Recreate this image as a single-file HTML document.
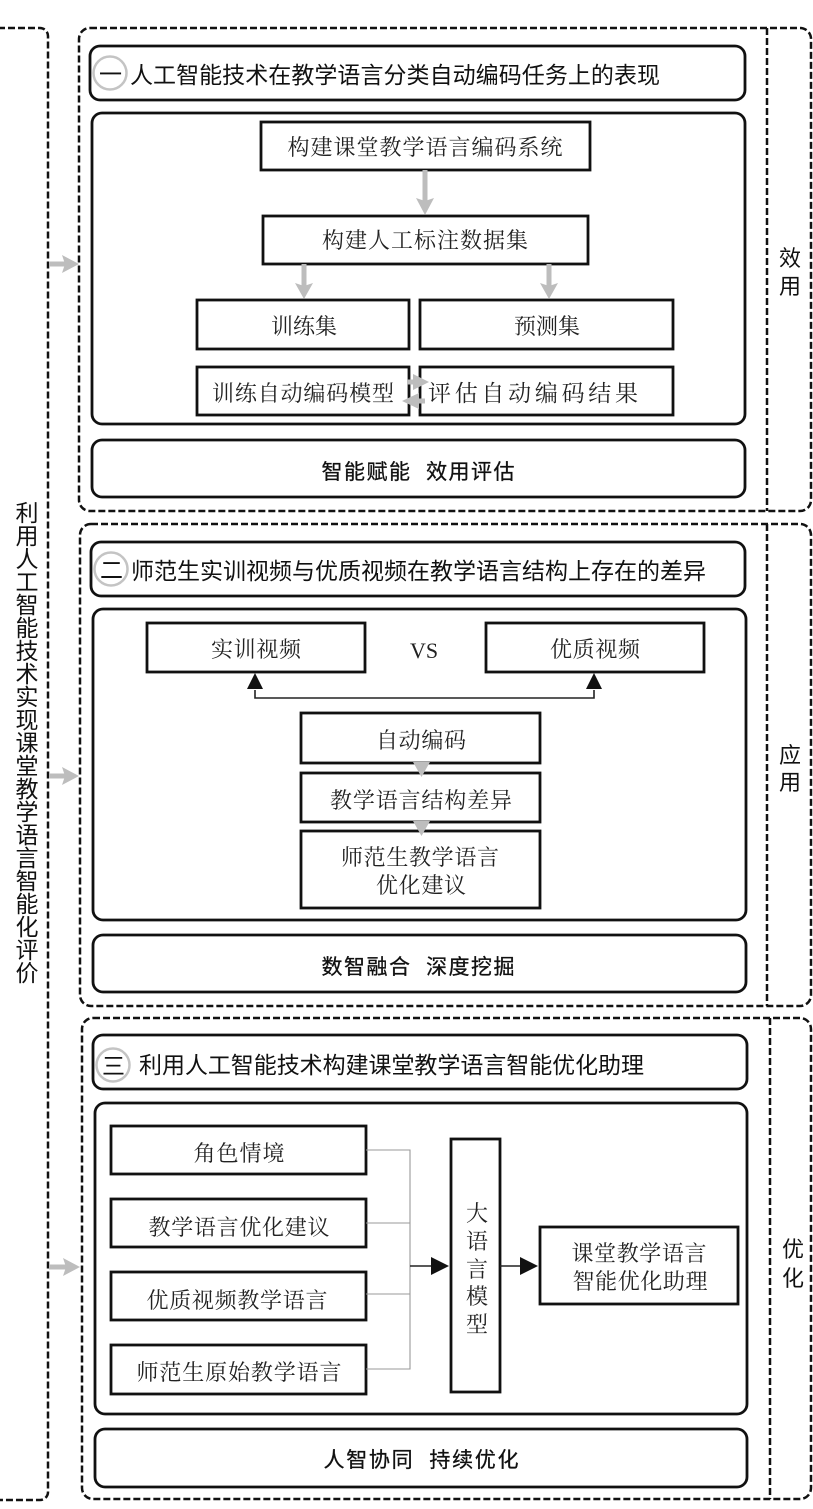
<!DOCTYPE html>
<html lang="zh"><head><meta charset="utf-8"><title>课堂教学语言智能化评价</title>
<style>
html,body{margin:0;padding:0;background:#fff}
svg{display:block}
.d{fill:none;stroke:#111;stroke-width:2.5;stroke-dasharray:7 3}
.r{fill:#fff;stroke:#111;stroke-width:2.8}
.b{fill:#fff;stroke:#111;stroke-width:2.8}
.g{stroke:#bdbdbd;stroke-width:5;fill:none}
.gf{fill:#bdbdbd}
.l{stroke:#999;stroke-width:1.1;fill:none}
.k{stroke:#222;stroke-width:1.6;fill:none}
.c{fill:#fff;stroke:#c4c4c4;stroke-width:2.5}
text{fill:#222;font-family:"Liberation Serif","Noto Serif CJK SC",serif;font-size:22px;text-anchor:middle}
.h{font-family:"Liberation Sans","Noto Sans CJK SC",sans-serif;font-size:23px;fill:#111;text-anchor:start}
.m{font-family:"Liberation Sans","Noto Sans CJK SC",sans-serif;font-size:21px;fill:#111;stroke:#111;stroke-width:.3}
.v{font-family:"Liberation Sans","Noto Sans CJK SC",sans-serif;font-size:22px;fill:#111}
</style></head><body>
<svg width="813" height="1509" viewBox="0 0 813 1509" xmlns="http://www.w3.org/2000/svg">
<!-- left column -->
<rect class="d" x="-10" y="28" width="58" height="1472" rx="8"/>
<text class="v" x="25" y="501" style="writing-mode:vertical-rl;text-anchor:start;font-size:23px">利用人工智能技术实现课堂教学语言智能化评价</text>

<!-- section 1 -->
<rect class="d" x="79" y="28" width="732" height="483" rx="11"/>
<line class="d" x1="767" y1="28" x2="767" y2="511"/>
<rect class="r" x="90" y="46" width="655" height="54" rx="10"/>
<circle class="c" cx="110" cy="73" r="16.5"/>
<text class="h" x="99" y="82">一</text>
<text class="h" x="130" y="83" textLength="530">人工智能技术在教学语言分类自动编码任务上的表现</text>
<rect class="r" x="92" y="113" width="653" height="311" rx="10"/>
<rect class="b" x="261" y="122" width="329" height="48"/>
<text x="425" y="155" textLength="275">构建课堂教学语言编码系统</text>
<rect class="b" x="263" y="216" width="325" height="48"/>
<text x="425" y="248" textLength="206">构建人工标注数据集</text>
<rect class="b" x="197" y="300" width="212" height="49"/>
<text x="304" y="334" textLength="66">训练集</text>
<rect class="b" x="420" y="300" width="253" height="49"/>
<text x="547" y="334" textLength="66">预测集</text>
<rect class="b" x="197" y="367" width="212" height="48"/>
<text x="303" y="401" textLength="182">训练自动编码模型</text>
<rect class="b" x="420" y="367" width="253" height="48"/>
<text x="533" y="401" textLength="210" style="font-size:23px">评估自动编码结果</text>
<rect class="r" x="92" y="440" width="653" height="57" rx="10"/>
<text class="m" x="418" y="479" textLength="193">智能赋能&#160;&#160;效用评估</text>
<text class="v" x="790" y="266">效</text>
<text class="v" x="790" y="294">用</text>
<!-- s1 arrows -->
<line class="g" x1="425" y1="170" x2="425" y2="203"/><path class="gf" d="M416 198l9 3 9-3-9 17z"/>
<line class="g" x1="304" y1="264" x2="304" y2="288"/><path class="gf" d="M295 283l9 3 9-3-9 16z"/>
<line class="g" x1="549" y1="264" x2="549" y2="288"/><path class="gf" d="M540 283l9 3 9-3-9 16z"/>
<line class="g" x1="407" y1="382" x2="422" y2="382"/><path class="gf" d="M413 374l16 8-16 8z"/>
<line class="g" x1="425" y1="401" x2="410" y2="401"/><path class="gf" d="M419 393l-17 8 17 8z"/>
<line class="g" x1="49" y1="264" x2="68" y2="264"/><path class="gf" d="M62 255l17 9-17 9 3-9z"/>

<!-- section 2 -->
<rect class="d" x="80" y="524" width="731" height="482" rx="11"/>
<line class="d" x1="767" y1="524" x2="767" y2="1006"/>
<rect class="r" x="91" y="542" width="654" height="54" rx="10"/>
<circle class="c" cx="111" cy="569" r="16.5"/>
<text class="h" x="100" y="578">二</text>
<text class="h" x="131" y="579" textLength="575">师范生实训视频与优质视频在教学语言结构上存在的差异</text>
<rect class="r" x="93" y="609" width="653" height="311" rx="10"/>
<rect class="b" x="147" y="623" width="218" height="49"/>
<text x="256" y="657" textLength="90">实训视频</text>
<rect class="b" x="486" y="623" width="218" height="49"/>
<text x="595" y="657" textLength="90">优质视频</text>
<text x="424" y="658">VS</text>
<path class="k" d="M255 690V698H594V690"/>
<path d="M247 689L255 673L263 689z M586 689L594 673L602 689z" fill="#111"/>
<rect class="b" x="301" y="713" width="239" height="50"/>
<text x="421" y="748" textLength="90">自动编码</text>
<rect class="b" x="301" y="773" width="239" height="49"/>
<text x="421" y="808" textLength="182">教学语言结构差异</text>
<rect class="b" x="301" y="831" width="239" height="77"/>
<text x="420" y="865" textLength="158">师范生教学语言</text>
<text x="421" y="893" textLength="90">优化建议</text>
<path class="gf" d="M413 762h17l-8.500 15z M413 821h17l-8.500 15z"/>
<rect class="r" x="93" y="935" width="653" height="57" rx="10"/>
<text class="m" x="418" y="974" textLength="193">数智融合&#160;&#160;深度挖掘</text>
<text class="v" x="790" y="763">应</text>
<text class="v" x="790" y="790">用</text>
<line class="g" x1="49" y1="776" x2="68" y2="776"/><path class="gf" d="M62 767l17 9-17 9 3-9z"/>

<!-- section 3 -->
<rect class="d" x="82" y="1018" width="729" height="481" rx="11"/>
<line class="d" x1="770" y1="1018" x2="770" y2="1499"/>
<rect class="r" x="93" y="1035" width="654" height="54" rx="10"/>
<circle class="c" cx="113" cy="1065" r="16.5"/>
<text class="h" x="102" y="1074">三</text>
<text class="h" x="139" y="1073" textLength="505">利用人工智能技术构建课堂教学语言智能优化助理</text>
<rect class="r" x="95" y="1103" width="652" height="311" rx="10"/>
<rect class="b" x="111" y="1126" width="255" height="48"/>
<text x="239" y="1161" textLength="91">角色情境</text>
<rect class="b" x="111" y="1199" width="255" height="48"/>
<text x="239" y="1235" textLength="181">教学语言优化建议</text>
<rect class="b" x="111" y="1272" width="255" height="48"/>
<text x="237" y="1308" textLength="181">优质视频教学语言</text>
<rect class="b" x="111" y="1345" width="255" height="49"/>
<text x="239" y="1380" textLength="205">师范生原始教学语言</text>
<path class="l" d="M366 1150H410V1369H366M366 1223H410M366 1294H410"/>
<rect class="b" x="451" y="1139" width="49" height="253"/>
<text x="477" y="1221">大</text>
<text x="477" y="1249">语</text>
<text x="477" y="1277">言</text>
<text x="477" y="1304">模</text>
<text x="477" y="1332">型</text>
<rect class="b" x="540" y="1227" width="198" height="77"/>
<text x="639" y="1261" textLength="135">课堂教学语言</text>
<text x="640" y="1289" textLength="135">智能优化助理</text>
<line class="k" x1="410" y1="1266" x2="432" y2="1266"/><path d="M431 1257l18 9-18 9z" fill="#111"/>
<line class="k" x1="500" y1="1266" x2="521" y2="1266"/><path d="M520 1257l18 9-18 9z" fill="#111"/>
<rect class="r" x="95" y="1429" width="652" height="58" rx="10"/>
<text class="m" x="421" y="1467" textLength="195">人智协同&#160;&#160;持续优化</text>
<text class="v" x="793" y="1257">优</text>
<text class="v" x="793" y="1286">化</text>
<line class="g" x1="49" y1="1267" x2="70" y2="1267"/><path class="gf" d="M63 1258l17 9-17 9 3-9z"/>
</svg>
</body></html>
